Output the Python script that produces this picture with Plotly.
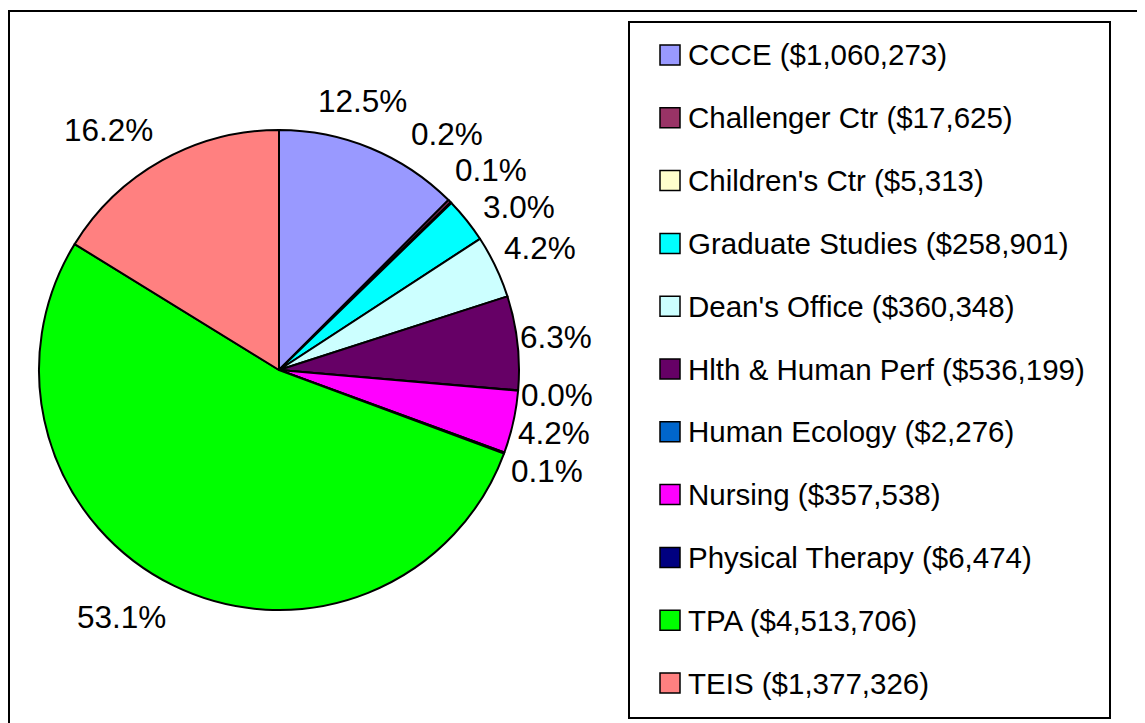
import math
import plotly.graph_objects as go

# ---- data ----
categories = ["CCCE", "Challenger Ctr", "Children's Ctr", "Graduate Studies",
              "Dean's Office", "Hlth & Human Perf", "Human Ecology", "Nursing",
              "Physical Therapy", "TPA", "TEIS"]
amounts = [1060273, 17625, 5313, 258901, 360348, 536199, 2276, 357538, 6474,
           4513706, 1377326]
colors = ["#9999FF", "#993366", "#FFFFCC", "#00FFFF", "#CCFFFF", "#660066",
          "#0066CC", "#FF00FF", "#000080", "#00FF00", "#FF8080"]

W, H = 1145, 723
OFF = 8  # page body margin
CX, CY, R = 279, 370, 240
FONT = "Arial, Liberation Sans, sans-serif"
FS_LAB = 31.5
FS_LEG = 29.5


def px(x):
    return (x - OFF) / W


def py(y):
    return 1 - (y - OFF) / H


total = sum(amounts)
pct_text = [f"{a / total * 100:.1f}%" for a in amounts]

fig = go.Figure()
fig.add_trace(go.Pie(
    labels=categories, values=amounts, sort=False, direction="clockwise",
    rotation=0, textinfo="none", hoverinfo="label+value+percent",
    marker=dict(colors=colors, line=dict(color="black", width=2)),
    domain=dict(x=[px(CX - R), px(CX + R)], y=[py(CY + R), py(CY - R)]),
    showlegend=False,
))

# ---- percentage label placement (outside end, with overlap resolution) ----
cw = {".": .278, "%": .889}


def text_w(t):
    return sum(cw.get(c, .556) for c in t) * FS_LAB


mids = []
cum = 0
for a in amounts:
    mids.append((cum + a / 2) / total * 360)
    cum += a

widths = [text_w(t) for t in pct_text]
HT = 30


def clip(v):
    return max(-1.0, min(1.0, v))


def center(theta, w):
    th = math.radians(theta)
    s, c = math.sin(th), math.cos(th)
    r = R + 1 + 19 * abs(c)
    x0, y0 = CX + r * s, CY - r * c
    return x0 + w / 2 * clip(3 * s), y0 - HT / 2 * clip(3 * c)


angles = list(mids)
hbox = 36
for _ in range(4000):
    moved = False
    order = sorted(range(len(angles)), key=lambda k: angles[k])
    for a_i, b_i in zip(order[:-1], order[1:]):
        xa, ya = center(angles[a_i], widths[a_i])
        xb, yb = center(angles[b_i], widths[b_i])
        if abs(xa - xb) < (widths[a_i] + widths[b_i]) / 2 + 4 and abs(ya - yb) < hbox:
            angles[a_i] -= 0.3
            angles[b_i] += 0.1
            moved = True
    if not moved:
        break

annotations = []
for t, ang, w in zip(pct_text, angles, widths):
    x, y = center(ang, w)
    annotations.append(dict(x=px(x), y=py(y), xref="paper", yref="paper",
                            text=t, showarrow=False, xanchor="center",
                            yanchor="middle",
                            font=dict(family=FONT, size=FS_LAB, color="black")))

# ---- legend (boxed, right side) ----
LEG_X0, LEG_Y0, LEG_X1, LEG_Y1 = 629, 22, 1110, 718
ROW0, ROW_STEP = 55, 62.8
SW = 20
shapes = [
    dict(type="rect", xref="paper", yref="paper", x0=px(9), y0=py(11),
         x1=px(1170), y1=py(750), line=dict(color="black", width=2)),
    dict(type="rect", xref="paper", yref="paper", x0=px(LEG_X0), y0=py(LEG_Y0),
         x1=px(LEG_X1), y1=py(LEG_Y1), line=dict(color="black", width=2)),
]
for i, (cat, amt, col) in enumerate(zip(categories, amounts, colors)):
    yc = ROW0 + i * ROW_STEP
    shapes.append(dict(type="rect", xref="paper", yref="paper",
                       x0=px(660), x1=px(660 + SW), y0=py(yc + SW / 2),
                       y1=py(yc - SW / 2), fillcolor=col,
                       line=dict(color="black", width=1.5)))
    annotations.append(dict(x=px(686), y=py(yc), xref="paper", yref="paper",
                            text=f"{cat} (${amt:,})", showarrow=False,
                            xanchor="left", yanchor="middle",
                            font=dict(family=FONT, size=FS_LEG, color="black")))

fig.update_layout(
    width=W, height=H, margin=dict(l=0, r=0, t=0, b=0),
    paper_bgcolor="white", plot_bgcolor="white",
    shapes=shapes, annotations=annotations,
    font=dict(family=FONT, color="black"),
)

fig.write_html("out.html")
